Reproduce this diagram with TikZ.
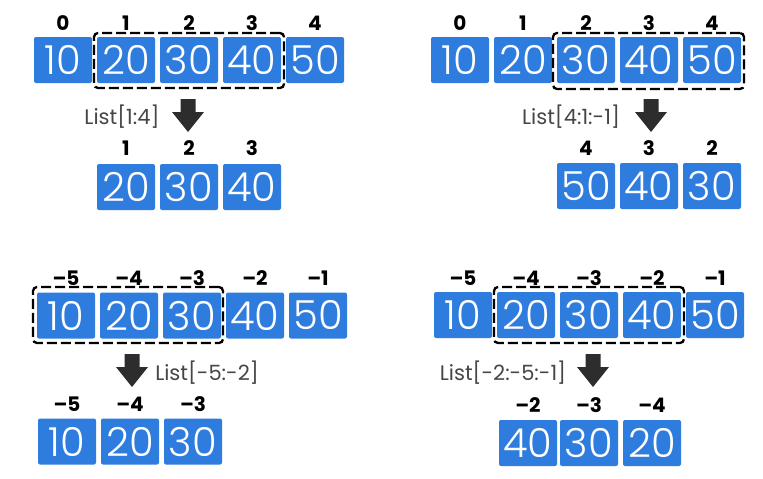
\documentclass[tikz,border=0pt]{standalone}
\usepackage{fontspec}
\setmainfont{Poppins}
\newfontfamily\numfont{Poppins Light}
\definecolor{boxblue}{RGB}{46,124,222}
\definecolor{arrowc}{RGB}{45,45,45}
\definecolor{listc}{RGB}{70,70,70}
\tikzset{
  cell/.style={fill=boxblue, rounded corners=2pt, minimum width=58pt, minimum height=46pt, inner sep=0pt, text=white, font=\numfont\fontsize{40}{40}\selectfont},
  idx/.style={inner sep=0pt, font=\bfseries\fontsize{20}{20}\selectfont},
  sel/.style={draw=black, line width=2.3pt, dash pattern=on 10pt off 4pt, rounded corners=4pt},
  lab/.style={inner sep=0pt, text=listc, font=\fontsize{21}{21}\selectfont},
  pics/downarr/.style={code={\fill[arrowc] (-7.5,0) -- (7.5,0) -- (7.5,13) -- (16,13) -- (0,33) -- (-16,13) -- (-7.5,13) -- cycle;}}
}
\begin{document}
\begin{tikzpicture}[x=1pt,y=-1pt]
\useasboundingbox (0,0) rectangle (763,479);
% ---------- panel 1 ----------
\foreach \v/\l [count=\i] in {10/0,20/1,30/2,40/3,50/4}{
  \node[cell] (p1t\i) at ({63+63*(\i-1)},60) {\v};
  \node[idx] (p1ti\i) at ({63+63*(\i-1)},23) {\l};
}
\node[sel, minimum width=190pt, minimum height=55pt] (p1s) at (189,60.5) {};
\pic at (188,99) {downarr};
\node[lab] (p1l) at (122,117) {List[1:4]};
\foreach \v/\l/\x [count=\i] in {20/1/126,30/2/189,40/3/252}{
  \node[cell] (p1b\i) at (\x,187) {\v};
  \node[idx] (p1bi\i) at (\x,148) {\l};
}
% ---------- panel 2 ----------
\foreach \v/\l [count=\i] in {10/0,20/1,30/2,40/3,50/4}{
  \node[cell] (p2t\i) at ({460+63*(\i-1)},60) {\v};
  \node[idx] (p2ti\i) at ({460+63*(\i-1)},23) {\l};
}
\node[sel, minimum width=191pt, minimum height=56pt] (p2s) at (648.5,61) {};
\pic at (651,99) {downarr};
\node[lab] (p2l) at (571,117) {List[4:1:-1]};
\foreach \v/\l/\x [count=\i] in {50/4/586,40/3/649,30/2/712}{
  \node[cell] (p2b\i) at (\x,186) {\v};
  \node[idx] (p2bi\i) at (\x,148) {\l};
}
% ---------- panel 3 ----------
\foreach \v/\l [count=\i] in {10/\textendash5,20/\textendash4,30/\textendash3,40/\textendash2,50/\textendash1}{
  \node[cell] (p3t\i) at ({66+63*(\i-1)},315.5) {\v};
  \node[idx] (p3ti\i) at ({66+63*(\i-1)},278) {\l};
}
\node[sel, minimum width=190pt, minimum height=56pt] (p3s) at (128,315) {};
\pic at (132,354) {downarr};
\node[lab] (p3l) at (207,373) {List[-5:-2]};
\foreach \v/\l/\x [count=\i] in {10/\textendash5/67,20/\textendash4/130,30/\textendash3/193}{
  \node[cell] (p3b\i) at (\x,441.5) {\v};
  \node[idx] (p3bi\i) at (\x,404) {\l};
}
% ---------- panel 4 ----------
\foreach \v/\l [count=\i] in {10/\textendash5,20/\textendash4,30/\textendash3,40/\textendash2,50/\textendash1}{
  \node[cell] (p4t\i) at ({463+63*(\i-1)},315) {\v};
  \node[idx] (p4ti\i) at ({463+63*(\i-1)},278) {\l};
}
\node[sel, minimum width=190pt, minimum height=56pt] (p4s) at (589,315) {};
\pic at (593,354) {downarr};
\node[lab] (p4l) at (503,373) {List[-2:-5:-1]};
\foreach \v/\l/\x [count=\i] in {40/\textendash2/528,30/\textendash3/589,20/\textendash4/652}{
  \node[cell] (p4b\i) at (\x,443) {\v};
  \node[idx] (p4bi\i) at (\x,405) {\l};
}
\end{tikzpicture}
\end{document}
